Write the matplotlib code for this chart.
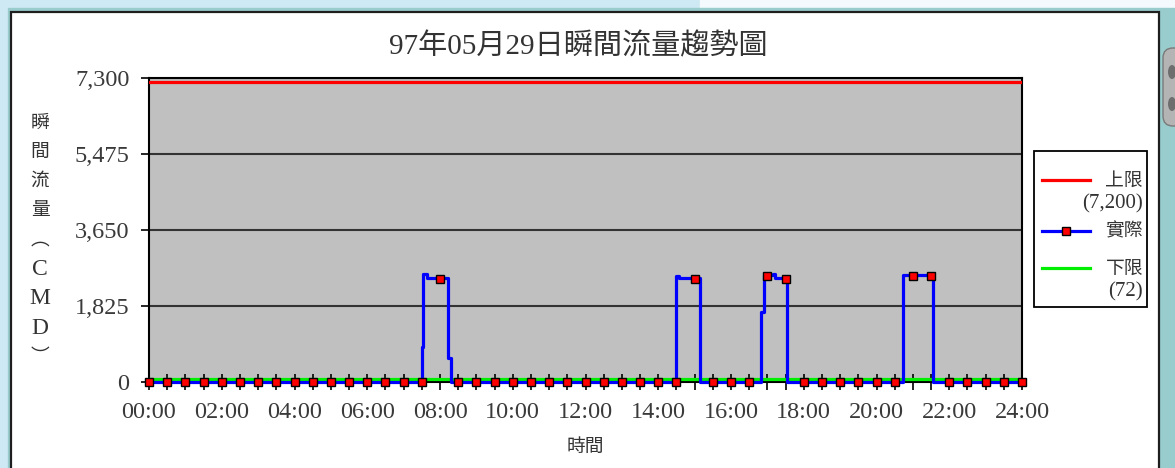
import numpy as np
import matplotlib
matplotlib.use('Agg')
import matplotlib.pyplot as plt
from matplotlib.patches import Rectangle, FancyBboxPatch, Ellipse
from matplotlib.lines import Line2D
from matplotlib.transforms import Affine2D

plt.rcParams['font.family'] = ['Liberation Serif', 'Noto Sans CJK TC']

W, H = 1175, 468

# half-hourly readings (the red square markers), CMD
sample_hours = np.arange(0, 24.5, 0.5)
sample_flow = [0, 0, 0, 0, 0, 0, 0, 0, 0, 0, 0, 0, 0, 0, 0, 0,
               2470, 0, 0, 0, 0, 0, 0, 0, 0, 0, 0, 0, 0, 0,
               2470, 0, 0, 0, 2530, 2470, 0, 0, 0, 0, 0, 0,
               2540, 2540, 0, 0, 0, 0, 0]

# instantaneous flow as recorded (step changes), hours / CMD
step_hours = [0, 7.50, 7.53, 7.65, 8.22, 8.29,
              14.50, 14.57, 15.15,
              16.82, 16.91, 17.15, 17.21, 17.53,
              20.73, 21.56, 24]
step_flow = [0, 840, 2590, 2500, 570, 0,
             2550, 2490, 0,
             1690, 2560, 2590, 2500, 0,
             2560, 0, 0]

upper_limit = 7200
lower_limit = 72
y_ticks = [0, 1825, 3650, 5475, 7300]
x_labels = ['%02d:00' % h for h in range(0, 25, 2)]

fig = plt.figure(figsize=(W / 100, H / 100), dpi=100)
fig.patch.set_facecolor('#cfe9f4')
# pixel coordinates, origin top-left
px = Affine2D().scale(1 / W, -1 / H).translate(0, 1) + fig.transFigure

fig.add_artist(Rectangle((700, -2), 480, 10, transform=px, color='#f3f9fc', zorder=-4))
fig.add_artist(Rectangle((8, 8), 1200, 500, transform=px, color='#99cccc', zorder=-3))
fig.add_artist(Rectangle((11, 12), 1148, 500, transform=px, fc='white',
                         ec='#1e1e1e', lw=1.6, zorder=-2))
# silver knob at the right edge
fig.add_artist(FancyBboxPatch((1163, 48), 22, 78, transform=px,
                              boxstyle='round,pad=0,rounding_size=10',
                              fc='#b4b4b4', ec='#7a7a7a', lw=1, zorder=-1))
fig.add_artist(Ellipse((1172, 72), 8, 14, transform=px, fc='#6e6e6e', ec='none', zorder=-1))
fig.add_artist(Ellipse((1172, 104), 8, 14, transform=px, fc='#6e6e6e', ec='none', zorder=-1))

ax = fig.add_axes([149 / W, 1 - 382 / H, (1022 - 149) / W, (382 - 77.5) / H])
ax.set_facecolor('#c0c0c0')
ax.set_xlim(0, 24)
ax.set_ylim(0, 7300)
ax.set_axisbelow(True)

ax.axhline(upper_limit, color='#ff0000', lw=2.3, zorder=3)
ax.axhline(lower_limit, color='#00ee00', lw=2.3, zorder=3)
ax.plot(step_hours, step_flow, drawstyle='steps-post', color='#0000ff',
        lw=2.3, zorder=4, clip_on=False)
ax.plot(sample_hours, sample_flow, ls='none', marker='s', ms=6.2,
        mfc='#ff0000', mec='black', mew=1, zorder=5, clip_on=False)

ax.set_yticks(y_ticks)
ax.set_yticklabels(['{:,}'.format(v) for v in y_ticks])
ax.yaxis.grid(True, color='#333333', lw=1.5)
ax.set_xticks(sample_hours)
ax.set_xticklabels([x_labels[int(h) // 2] if h % 2 == 0 else '' for h in sample_hours])
ax.tick_params(axis='y', direction='out', length=6, width=1.2, pad=8,
               labelsize=17.5, labelcolor='#3a3a3a')
ax.tick_params(axis='x', direction='inout', length=11, width=1.2, pad=9,
               labelsize=17.5, labelcolor='#3a3a3a')
for s in ax.spines.values():
    s.set_color('black')
    s.set_linewidth(1.5)

fig.text(578, 47, '97年05月29日瞬間流量趨勢圖', transform=px, ha='center',
         va='center', fontsize=21, color='#333333')
fig.text(585, 447, '時間', transform=px, ha='center', va='center',
         fontsize=13.5, color='#333333')
for i, ch in enumerate('瞬間流量︵CMD︶'):
    fig.text(40, 123 + i * 29.3, ch, transform=px, ha='center', va='center',
             fontsize=17 if ch in 'CMD' else 13.5, color='#333333')

# legend box
fig.add_artist(Rectangle((1034, 151), 113, 156, transform=px, fc='white',
                         ec='black', lw=1.3))
legend_rows = [('#ff0000', 180, '上限', '(7,200)', False),
               ('#0000ff', 231, '實際', None, True),
               ('#00ee00', 268, '下限', '(72)', False)]
for color, y, name, note, marked in legend_rows:
    fig.add_artist(Line2D([1042, 1090], [y, y], transform=px, color=color, lw=2.3))
    if marked:
        fig.add_artist(Line2D([1066], [y], transform=px, ls='none', marker='s',
                              ms=6.2, mfc='#ff0000', mec='black', mew=1))
    fig.text(1143, y + 1, name, transform=px, ha='right', va='center',
             fontsize=13.5, color='#333333')
    if note:
        fig.text(1143, y + 24, note, transform=px, ha='right', va='center',
                 fontsize=15, color='#333333')

fig.savefig('out.png', dpi=100)
